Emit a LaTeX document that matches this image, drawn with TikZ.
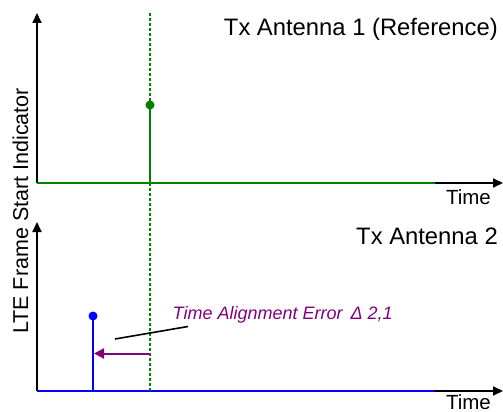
\documentclass[tikz,border=0pt]{standalone}
\usepackage{fontspec}
\setmainfont{Liberation Sans}
\usetikzlibrary{arrows.meta, positioning}
\definecolor{txgreen}{RGB}{0, 128, 0}
\definecolor{txblue}{RGB}{0, 0, 255}
\definecolor{txpurple}{RGB}{128, 0, 128}

\begin{document}
\begin{tikzpicture}[x=1pt,y=-1pt,
          axis/.style={line width=2pt,-{Triangle[length=10pt,width=9pt]}},
          trace/.style={line width=2.4pt},
          stem/.style={line width=2pt},
          title/.style={inner sep=0pt,font=\fontsize{23.8}{28}\selectfont},
          tlabel/.style={inner sep=0pt,font=\fontsize{20.5}{24}\selectfont}]
        \useasboundingbox (0,0) rectangle (503,412);
        % axes
        \coordinate (o1) at (37,183);
        \coordinate (o2) at (37,391);
        \coordinate (y1) at (37,13);
        \coordinate (y2) at (37,222);
        \coordinate (x1) at (503,183);
        \coordinate (x2) at (503,391);
        \coordinate (e1) at (435,183);
        \coordinate (e2) at (435,391);
        \draw[axis] (o1)--(y1);
        \draw[axis] (o2)--(y2);
        \draw[axis] (o1)--(x1);
        \draw[axis] (o2)--(x2);
        \draw[trace,txgreen] (o1)--(e1);
        \draw[trace,txblue] (o2)--(e2);
        % reference instant
        \coordinate (rtop) at (150,13);
        \coordinate (rbot) at (150,391);
        \draw[txgreen,line width=2pt,dash pattern=on 3pt off 2pt] (rtop)--(rbot);
        \coordinate (s1) at (150,183);
        \node[circle,fill=txgreen,inner sep=0pt,minimum size=9pt](d1) at (150,105) {};
        \draw[stem,txgreen] (s1)--(d1.center);
        \coordinate (s2) at (93,391);
        \node[circle,fill=txblue,inner sep=0pt,minimum size=9pt](d2) at (93,316) {};
        \draw[stem,txblue] (s2)--(d2.center);
        % alignment error
        \coordinate (ea) at (150,353.5);
        \coordinate (eb) at (94,353.5);
        \draw[txpurple,line width=2pt,-{Triangle[length=10pt,width=10pt]}] (ea)--(eb);
        \node[inner sep=0pt,anchor=base west,txpurple,
              font=\fontsize{18}{22}\selectfont\itshape](err) at (172.5,319.5)
          {Time Alignment Error \,Δ 2,1};
        \coordinate (la) at (115,339);
        \coordinate (lb) at (188,326.5);
        \draw[line width=1.6pt] (la)--(lb);
        % labels
        \node[title,anchor=base east](t1) at (498,36) {Tx Antenna 1 (Reference)};
        \node[title,anchor=base east](t2) at (498,244.5) {Tx Antenna 2};
        \node[tlabel,anchor=base east](time1) at (491,204) {Time};
        \node[tlabel,anchor=base east](time2) at (491,409) {Time};
        \node[inner sep=0pt,anchor=base,rotate=90,
              font=\fontsize{21.5}{25}\selectfont](ylab) at (28,211)
          {LTE Frame Start Indicator};
      \end{tikzpicture}
\end{document}
